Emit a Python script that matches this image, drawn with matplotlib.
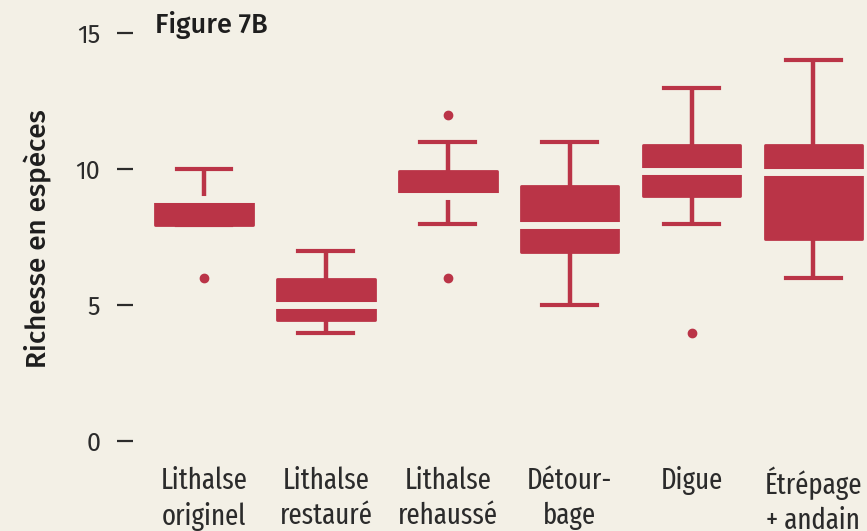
"""Figure 7B: richesse en espèces par type d'aménagement (boxplots)."""

import matplotlib
matplotlib.use("Agg")
import matplotlib.pyplot as plt
from matplotlib import font_manager

BG = "#f3f0e6"
RED = "#ba3447"
INK = "#2b2b2b"

# values
categories = ["Lithalse\noriginel", "Lithalse\nrestauré", "Lithalse\nrehaussé",
              "Détour-\nbage", "Digue", "Étrépage\n+ andain"]
q1 = [7.95, 4.45, 9.0, 6.95, 9.0, 7.45]
medians = [8.9, 5.0, 9.0, 7.95, 9.95, 9.9]
q3 = [8.9, 5.95, 9.92, 9.4, 10.9, 10.9]
whislo = [7.95, 4.0, 8.0, 5.0, 8.0, 6.0]
whishi = [10.0, 7.0, 11.0, 11.0, 13.0, 14.0]
fliers = [[6.0], [], [12.0, 6.0], [], [4.0], []]
yticks = [0, 5, 10, 15]

names = {f.name for f in font_manager.fontManager.ttflist}


def pick(*cands):
    return next((n for n in cands if n in names), "DejaVu Sans")


WIDE = pick("Fira Sans", "Open Sans")
NARROW = pick("Fira Sans Extra Condensed", "Fira Sans Condensed", "Open Sans")
plt.rcParams["font.family"] = [WIDE, "DejaVu Sans"]

fig = plt.figure(figsize=(8.67, 5.31), dpi=100, facecolor=BG)
ax = fig.add_axes([133 / 867, 76 / 531, 734 / 867, 455 / 531], facecolor=BG)

stats = [
    {"q1": a, "med": m, "q3": b, "whislo": lo, "whishi": hi, "fliers": f}
    for a, m, b, lo, hi, f in zip(q1, medians, q3, whislo, whishi, fliers)
]
parts = ax.bxp(
    stats,
    positions=range(1, len(stats) + 1),
    widths=0.8,
    patch_artist=True,
    showfliers=True,
    capwidths=0.45,
    boxprops=dict(facecolor=RED, edgecolor=RED, linewidth=2.0, joinstyle="round"),
    whiskerprops=dict(color=RED, linewidth=3.2, solid_capstyle="butt"),
    capprops=dict(color=RED, linewidth=3.0),
    medianprops=dict(color=BG, linewidth=5.0, solid_capstyle="butt"),
    flierprops=dict(marker="o", markerfacecolor=RED, markeredgecolor=RED, markersize=6),
)
# let the gap cut cleanly through the rounded box edge
for line in parts["medians"]:
    x0, x1 = line.get_xdata()
    line.set_xdata([x0 - 0.02, x1 + 0.02])

ax.set_xlim(0.417, 6.44)
ax.set_ylim(-0.5, 16.22)
for s in ax.spines.values():
    s.set_visible(False)

ax.set_yticks(yticks)
ax.set_yticklabels([str(t) for t in yticks])
ax.tick_params(axis="y", length=11.5, width=1.6, color=INK, pad=12,
               labelsize=18, labelcolor=INK)
ax.set_xticks(range(1, len(categories) + 1))
ax.set_xticklabels(categories, linespacing=1.3, family=[NARROW, "DejaVu Sans"],
                   fontstretch="condensed")
ax.tick_params(axis="x", length=0, pad=8, labelsize=21, labelcolor=INK)

ax.set_ylabel("Richesse en espèces", fontsize=20, color="#1e1e1e", fontweight="medium")
ax.yaxis.set_label_coords(-0.111, 0.475)
ax.text(0.03, 0.945, "Figure 7B", transform=ax.transAxes, fontsize=19.5,
        color="#1e1e1e", fontweight="medium", ha="left", va="center")

fig.savefig("out.png", dpi=100, facecolor=BG)
print("Saved out.png")
